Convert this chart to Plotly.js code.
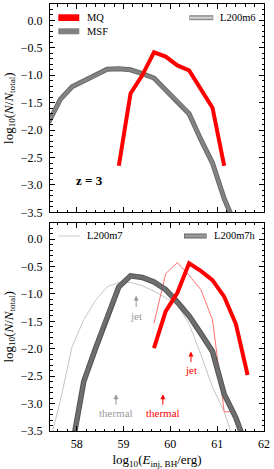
<!DOCTYPE html>
<html><head><meta charset="utf-8">
<script src="https://cdn.plot.ly/plotly-3.0.1.min.js"></script>
<style>html,body{margin:0;padding:0;background:#fff;}#chart{width:274px;height:469px;}</style>
</head><body><div id="chart"></div>
<script>
// ---- data (z = 3, top panel) ----
const xTopMSF = [57.4, 57.65, 57.9, 58.15, 58.4, 58.65, 58.9, 59.15, 59.4, 59.65, 59.9, 60.15, 60.4, 60.65, 60.9, 61.15, 61.4];
const yTopMSF = [-1.86, -1.44, -1.21, -1.11, -1.0, -0.89, -0.88, -0.9, -0.97, -1.05, -1.27, -1.47, -1.7, -2.17, -2.6, -3.25, -3.75];
const xTopMQ = [58.9, 59.15, 59.4, 59.65, 59.9, 60.15, 60.4, 60.65, 60.9, 61.15];
const yTopMQ = [-2.65, -1.33, -1.0, -0.58, -0.66, -0.82, -0.91, -1.25, -1.59, -2.65];
// ---- data (bottom panel) ----
const xL7MSF = [57.4, 57.65, 57.9, 58.15, 58.4, 58.65, 58.9, 59.15, 59.4, 59.65, 59.9, 60.15, 60.4, 60.65, 60.9, 61.15, 61.4];
const yL7MSF = [-3.8, -2.95, -1.97, -1.47, -1.12, -0.87, -0.79, -0.79, -0.85, -0.95, -1.07, -1.2, -1.55, -2.1, -2.7, -3.15, -3.8];
const xL7hMSF = [57.9, 58.15, 58.4, 58.65, 58.9, 59.15, 59.4, 59.65, 59.9, 60.15, 60.4, 60.65, 60.9, 61.15, 61.4, 61.65];
const yL7hMSF = [-3.8, -2.6, -2.0, -1.41, -0.87, -0.67, -0.70, -0.78, -0.92, -1.15, -1.4, -1.72, -2.05, -2.83, -3.26, -3.85];
const xL7MQ = [59.65, 59.9, 60.15, 60.4, 60.65, 60.9, 61.15, 61.4];
const yL7MQ = [-1.54, -0.63, -0.43, -0.66, -0.92, -1.47, -3.15, -3.15];
const xL7hMQ = [59.65, 59.9, 60.15, 60.4, 60.65, 60.9, 61.15, 61.4, 61.65];
const yL7hMQ = [-1.99, -1.32, -0.98, -0.44, -0.58, -0.75, -1.05, -1.55, -2.48];
const yTickVals = [-3.5, -3.0, -2.5, -2.0, -1.5, -1.0, -0.5, 0.0];
const xTickVals = [58, 59, 60, 61, 62];

const FONT = 'Liberation Serif, Times New Roman, serif';
const W = 274, H = 469;
const M = {l: 50, r: 10, t: 4, b: 38};
const pw = W - M.l - M.r, ph = H - M.t - M.b;
function px(x) { return (x - M.l) / pw; }
function py(y) { return (H - M.b - y) / ph; }

function line(x, y, xa, ya, color, width) {
  return {x: x, y: y, xaxis: xa, yaxis: ya, type: 'scatter', mode: 'lines',
    line: {color: color, width: width}, showlegend: false, hoverinfo: 'skip'};
}
const traces = [
  line(xTopMSF, yTopMSF, 'x', 'y', '#666666', 5),
  line(xTopMSF, yTopMSF, 'x', 'y', '#838383', 3.2),
  line(xTopMQ, yTopMQ, 'x', 'y', '#ff0000', 4),
  line(xL7MSF, yL7MSF, 'x2', 'y2', '#c4c4c4', 1),
  line(xL7MQ, yL7MQ, 'x2', 'y2', '#ff7070', 1),
  line(xL7hMSF, yL7hMSF, 'x2', 'y2', '#555555', 5.5),
  line(xL7hMSF, yL7hMSF, 'x2', 'y2', '#6e6e6e', 3.5),
  line(xL7hMQ, yL7hMQ, 'x2', 'y2', '#ff0000', 4)
];

const axBase = {showline: true, linecolor: '#000', linewidth: 1, mirror: 'allticks',
  ticks: 'inside', ticklen: 5, tickwidth: 1, tickcolor: '#000', showgrid: false, zeroline: false,
  tickfont: {family: FONT, size: 12, color: '#000'}};
function xAxis(anchor, labels) {
  return Object.assign({}, axBase, {anchor: anchor, range: [57.43, 62], tickvals: xTickVals,
    showticklabels: labels, ticklabelstandoff: 2,
    minor: {ticks: 'inside', ticklen: 2.5, dtick: 0.2, tick0: 58, tickcolor: '#000'}});
}
function yAxis(anchor, dom) {
  return Object.assign({}, axBase, {anchor: anchor, domain: dom, range: [-3.5, 0.3],
    tickvals: yTickVals, tickformat: '.1f', ticklabelstandoff: 4,
    title: {text: 'log<sub>10</sub>(<i>N</i>/<i>N</i><sub>total</sub>)', font: {family: FONT, size: 13, color: '#000'}, standoff: 4},
    minor: {ticks: 'inside', ticklen: 2.5, dtick: 0.1, tick0: 0, tickcolor: '#000'}});
}

const x2 = xAxis('y2', true);
x2.title = {text: 'log<sub>10</sub>(<i>E</i><sub>inj, BH</sub>/erg)', font: {family: FONT, size: 13, color: '#000'}, standoff: 4};

function hline(x0, x1, y, color, width) {
  return {type: 'line', xref: 'paper', yref: 'paper', x0: px(x0), x1: px(x1), y0: py(y), y1: py(y),
    line: {color: color, width: width}};
}
function rect(x0, x1, y0, y1, color) {
  return {type: 'rect', xref: 'paper', yref: 'paper', x0: px(x0), x1: px(x1), y0: py(y1), y1: py(y0),
    fillcolor: color, line: {width: 0}};
}
function label(x, y, text, color, size, anchor) {
  return {xref: 'paper', yref: 'paper', x: px(x), y: py(y), text: text, showarrow: false,
    xanchor: anchor || 'left', yanchor: 'middle', font: {family: FONT, size: size || 10.5, color: color || '#000'}};
}
const shapes = [
  rect(58.3, 79.3, 14.3, 21, '#ff0000'),
  rect(58.3, 79.3, 28.3, 34.3, '#808080'),
  hline(189.3, 213.3, 17.7, '#8a8a8a', 5),
  hline(190, 212.6, 17.7, '#d0d0d0', 2.2),
  hline(58.3, 80, 236, '#cccccc', 1),
  hline(184, 206.7, 236, '#666666', 5),
  hline(184.6, 206.1, 236, '#9a9a9a', 3)
];
function arrowNote(x, y, text, color, ay) {
  return {xref: 'x2', yref: 'y2', x: x, y: y, text: text, showarrow: true, ax: 0, ay: ay,
    arrowhead: 2, arrowsize: 1, arrowwidth: 1, arrowcolor: color, standoff: 0, startstandoff: 1,
    font: {family: FONT, size: 11, color: color}};
}
const annotations = [
  label(84.5, 17.6, 'MQ'), label(84.5, 31.3, 'MSF'),
  label(217.5, 17.7, 'L200m6'),
  label(84.5, 236, 'L200m7'), label(211.5, 236, 'L200m7h'),
  {xref: 'x', yref: 'y', x: 58.27, y: -2.91, text: '<b>z = 3</b>', showarrow: false,
    font: {family: FONT, size: 13, color: '#000'}},
  arrowNote(59.27, -1.03, 'jet', '#999999', 20),
  arrowNote(60.44, -2.05, 'jet', '#ff0000', 19),
  arrowNote(58.84, -2.83, 'thermal', '#999999', 19),
  arrowNote(59.84, -2.83, 'thermal', '#ff0000', 19)
];

const layout = {
  width: W, height: H, margin: M, paper_bgcolor: '#fff', plot_bgcolor: '#fff', showlegend: false,
  font: {family: FONT, color: '#000'},
  xaxis: xAxis('y', false),
  yaxis: yAxis('x', [0.512, 1]),
  xaxis2: x2,
  yaxis2: yAxis('x2', [0, 0.488]),
  shapes: shapes, annotations: annotations
};
Plotly.newPlot('chart', traces, layout, {staticPlot: true, displayModeBar: false});
</script></body></html>
